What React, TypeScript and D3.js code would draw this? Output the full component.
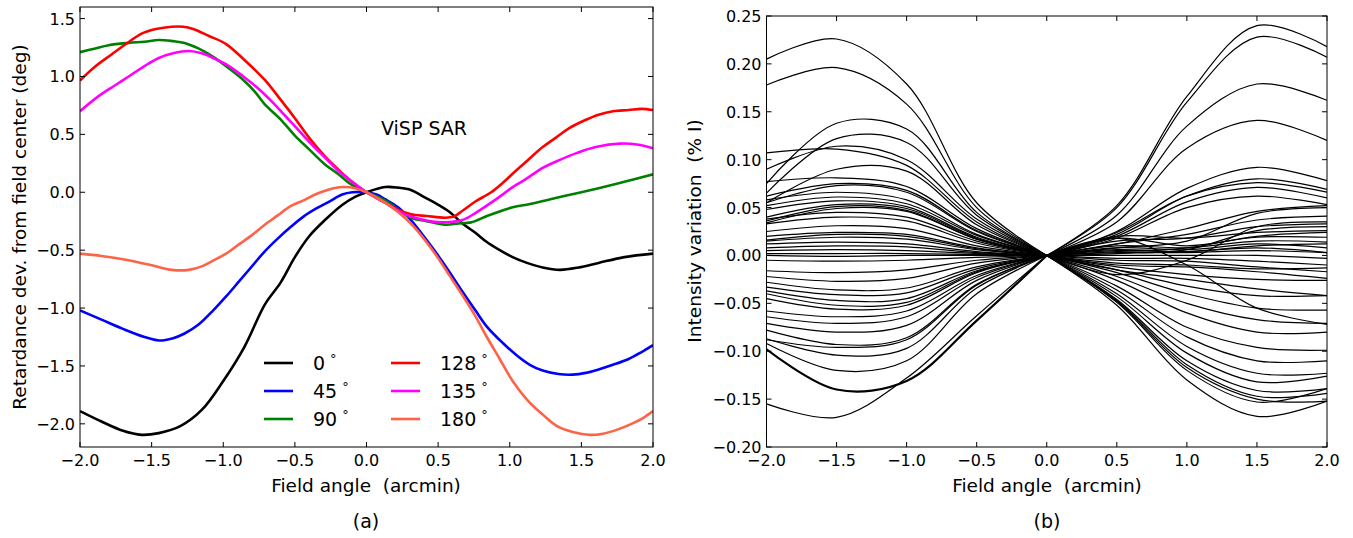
import React from 'react';
import * as d3 from 'd3';

// ---------- Panel (a): retardance deviation ----------
const legendLabels = ['0', '45', '90', '128', '135', '180'];
const seriesColors = ['#000000', '#0000ff', '#008000', '#ff0000', '#ff00ff', '#ff6347'];

const ret0: number[][] = [[-2,-1.89],[-1.85,-1.98],[-1.7,-2.06],[-1.57,-2.095],[-1.45,-2.08],[-1.3,-2.02],[-1.15,-1.88],[-1.0,-1.63],[-0.85,-1.33],[-0.71,-0.97],[-0.6,-0.78],[-0.5,-0.56],[-0.4,-0.38],[-0.29,-0.24],[-0.17,-0.11],[-0.08,-0.04],[0,0],[0.13,0.045],[0.22,0.04],[0.31,0.02],[0.4,-0.04],[0.49,-0.10],[0.58,-0.17],[0.67,-0.27],[0.76,-0.35],[0.84,-0.43],[0.93,-0.50],[1.02,-0.56],[1.12,-0.61],[1.23,-0.65],[1.35,-0.67],[1.48,-0.65],[1.62,-0.61],[1.8,-0.56],[2.0,-0.53]];
const ret45: number[][] = [[-2,-1.02],[-1.85,-1.10],[-1.7,-1.18],[-1.55,-1.25],[-1.45,-1.28],[-1.35,-1.26],[-1.27,-1.22],[-1.17,-1.14],[-1.07,-1.02],[-0.98,-0.90],[-0.89,-0.77],[-0.8,-0.64],[-0.71,-0.51],[-0.62,-0.40],[-0.53,-0.30],[-0.44,-0.21],[-0.35,-0.14],[-0.26,-0.08],[-0.17,-0.02],[-0.1,0.0],[0,0],[0.07,-0.02],[0.13,-0.06],[0.22,-0.13],[0.31,-0.24],[0.4,-0.38],[0.49,-0.53],[0.58,-0.69],[0.67,-0.86],[0.76,-1.02],[0.84,-1.16],[0.95,-1.30],[1.05,-1.41],[1.14,-1.49],[1.23,-1.54],[1.34,-1.57],[1.44,-1.575],[1.53,-1.56],[1.62,-1.53],[1.72,-1.49],[1.83,-1.44],[1.92,-1.38],[2.0,-1.32]];
const ret90: number[][] = [[-2,1.21],[-1.9,1.24],[-1.8,1.27],[-1.66,1.29],[-1.55,1.30],[-1.45,1.315],[-1.35,1.305],[-1.27,1.29],[-1.17,1.24],[-1.07,1.17],[-0.96,1.07],[-0.86,0.97],[-0.78,0.87],[-0.71,0.76],[-0.6,0.63],[-0.5,0.49],[-0.4,0.37],[-0.29,0.24],[-0.2,0.16],[-0.11,0.07],[0,0],[0.13,-0.07],[0.22,-0.15],[0.31,-0.22],[0.42,-0.25],[0.55,-0.28],[0.64,-0.27],[0.73,-0.26],[0.85,-0.20],[1.02,-0.13],[1.15,-0.10],[1.32,-0.05],[1.5,0.0],[1.62,0.035],[1.8,0.09],[2.0,0.155]];
const ret128: number[][] = [[-2,0.965],[-1.9,1.08],[-1.78,1.19],[-1.68,1.28],[-1.57,1.37],[-1.47,1.41],[-1.36,1.43],[-1.28,1.43],[-1.21,1.41],[-1.1,1.35],[-0.98,1.28],[-0.85,1.14],[-0.71,0.97],[-0.6,0.80],[-0.5,0.64],[-0.4,0.47],[-0.29,0.31],[-0.2,0.20],[-0.11,0.10],[0,0],[0.13,-0.09],[0.22,-0.15],[0.31,-0.19],[0.42,-0.205],[0.55,-0.22],[0.61,-0.21],[0.67,-0.16],[0.76,-0.08],[0.87,0.0],[0.95,0.08],[1.02,0.16],[1.12,0.27],[1.23,0.39],[1.32,0.47],[1.41,0.55],[1.52,0.62],[1.62,0.67],[1.72,0.70],[1.83,0.71],[1.92,0.72],[2.0,0.71]];
const ret135: number[][] = [[-2,0.70],[-1.87,0.83],[-1.76,0.92],[-1.66,1.0],[-1.55,1.09],[-1.45,1.16],[-1.35,1.20],[-1.24,1.22],[-1.15,1.20],[-1.07,1.16],[-0.96,1.09],[-0.86,1.0],[-0.75,0.89],[-0.65,0.77],[-0.56,0.65],[-0.47,0.53],[-0.38,0.41],[-0.29,0.30],[-0.2,0.19],[-0.11,0.10],[0,0],[0.13,-0.09],[0.22,-0.16],[0.31,-0.21],[0.42,-0.245],[0.52,-0.26],[0.6,-0.255],[0.67,-0.24],[0.76,-0.18],[0.87,-0.09],[0.95,-0.02],[1.02,0.045],[1.12,0.12],[1.23,0.21],[1.35,0.28],[1.47,0.34],[1.6,0.39],[1.77,0.42],[1.9,0.41],[2.0,0.38]];
const ret180: number[][] = [[-2,-0.53],[-1.85,-0.55],[-1.69,-0.58],[-1.5,-0.63],[-1.36,-0.67],[-1.24,-0.67],[-1.15,-0.64],[-1.07,-0.59],[-0.98,-0.53],[-0.89,-0.45],[-0.8,-0.37],[-0.71,-0.28],[-0.62,-0.20],[-0.53,-0.12],[-0.44,-0.07],[-0.35,-0.015],[-0.23,0.035],[-0.15,0.045],[-0.08,0.035],[0,0],[0.13,-0.09],[0.22,-0.17],[0.31,-0.27],[0.4,-0.40],[0.49,-0.55],[0.58,-0.72],[0.67,-0.89],[0.76,-1.07],[0.84,-1.25],[0.93,-1.44],[1.02,-1.63],[1.12,-1.79],[1.23,-1.92],[1.33,-2.02],[1.44,-2.07],[1.56,-2.095],[1.65,-2.085],[1.75,-2.05],[1.85,-2.0],[1.93,-1.95],[2.0,-1.89]];
const retSeries = [ret0, ret45, ret90, ret128, ret135, ret180];

const xTicksA = [-2.0, -1.5, -1.0, -0.5, 0.0, 0.5, 1.0, 1.5, 2.0];
const yTicksA = [-2.0, -1.5, -1.0, -0.5, 0.0, 0.5, 1.0, 1.5];

// ---------- Panel (b): intensity variation ----------
const leftAngles = [-2, -1.5, -1, -0.5, 0];
const rightAngles = [0, 0.5, 1, 1.5, 2];
// left halves: values at -2, -1.5, -1, -0.5 (0 at centre)
const leftHalves: number[][] = [
  [0.205, 0.226, 0.179, 0.055], [0.178, 0.196, 0.158, 0.05], [0.075, 0.138, 0.132, 0.045], [0.065, 0.122, 0.118, 0.042],
  [0.09, 0.114, 0.100, 0.038], [0.107, 0.111, 0.094, 0.035], [0.055, 0.09, 0.088, 0.032], [0.077, 0.081, 0.072, 0.028],
  [0.062, 0.075, 0.068, 0.026], [0.055, 0.073, 0.066, 0.025], [0.058, 0.066, 0.058, 0.022], [0.052, 0.061, 0.054, 0.021],
  [0.048, 0.057, 0.051, 0.019], [0.040, 0.053, 0.049, 0.018], [0.036, 0.051, 0.047, 0.017], [0.034, 0.049, 0.046, 0.017],
  [0.038, 0.045, 0.040, 0.015], [0.033, 0.040, 0.036, 0.013], [0.025, 0.031, 0.028, 0.010], [0.020, 0.024, 0.022, 0.008],
  [0.016, 0.022, 0.020, 0.007], [0.015, 0.019, 0.017, 0.006], [0.012, 0.014, 0.012, 0.004], [0.008, 0.010, 0.009, 0.003],
  [0.005, 0.006, 0.005, 0.002], [0.002, 0.002, 0.002, 0.001], [0, -0.001, 0, 0], [-0.005, -0.006, -0.005, -0.002],
  [-0.016, -0.018, -0.015, -0.005], [-0.022, -0.027, -0.024, -0.008], [-0.028, -0.036, -0.034, -0.012], [-0.033, -0.041, -0.039, -0.014],
  [-0.037, -0.047, -0.045, -0.016], [-0.040, -0.052, -0.049, -0.017], [-0.045, -0.056, -0.052, -0.018], [-0.058, -0.064, -0.058, -0.021],
  [-0.064, -0.071, -0.064, -0.023], [-0.071, -0.080, -0.073, -0.026], [-0.078, -0.093, -0.086, -0.030], [-0.088, -0.096, -0.088, -0.031],
  [-0.087, -0.104, -0.097, -0.034], [-0.092, -0.120, -0.110, -0.040], [-0.098, -0.140, -0.131, -0.068], [-0.155, -0.169, -0.128, -0.063],
];
// right halves: values at 0.5, 1, 1.5, 2 (0 at centre)
const rightHalves: number[][] = [
  [0.052, 0.166, 0.240, 0.218], [0.050, 0.160, 0.228, 0.207], [0.042, 0.135, 0.179, 0.162], [0.035, 0.112, 0.141, 0.120],
  [0.025, 0.070, 0.092, 0.078], [0.022, 0.062, 0.080, 0.069], [0.024, 0.062, 0.076, 0.066], [0.020, 0.056, 0.071, 0.060],
  [0.018, 0.050, 0.062, 0.053], [0.008, 0.015, 0.044, 0.050], [0.012, 0.022, 0.037, 0.041], [0.015, 0.018, 0.030, 0.033],
  [0.020, 0.018, 0.024, 0.026], [0.018, 0.010, 0.019, 0.019], [0.010, 0.008, 0.015, 0.014], [0.008, 0.006, 0.012, 0.008],
  [0.005, 0.004, 0.008, 0.003], [0.003, 0.003, 0.005, 0.003], [0.000, 0.000, 0.000, -0.003], [-0.003, -0.003, -0.006, -0.010],
  [-0.005, -0.006, -0.012, -0.017], [-0.010, -0.012, -0.017, -0.024], [0.018, -0.010, -0.055, -0.072], [-0.015, -0.025, -0.035, -0.042],
  [-0.020, -0.005, 0.030, 0.035], [0.006, 0.004, 0.010, 0.012], [-0.008, -0.010, -0.014, -0.013], [0.004, 0.008, 0.020, 0.024],
  [-0.012, -0.020, -0.025, -0.026], [0.002, 0.006, 0.026, 0.030], [0.012, 0.028, 0.046, 0.052], [-0.015, -0.032, -0.042, -0.042],
  [-0.018, -0.040, -0.055, -0.057], [-0.022, -0.050, -0.067, -0.071], [-0.026, -0.060, -0.080, -0.080], [-0.032, -0.075, -0.096, -0.099],
  [-0.036, -0.085, -0.110, -0.110], [-0.040, -0.095, -0.123, -0.123], [-0.043, -0.102, -0.132, -0.126], [-0.046, -0.110, -0.141, -0.139],
  [-0.047, -0.114, -0.147, -0.144], [-0.048, -0.117, -0.150, -0.152], [-0.049, -0.120, -0.153, -0.139], [-0.052, -0.130, -0.168, -0.152],
];
const xTicksB = [-2.0, -1.5, -1.0, -0.5, 0.0, 0.5, 1.0, 1.5, 2.0];
const yTicksB = [-0.2, -0.15, -0.1, -0.05, 0.0, 0.05, 0.1, 0.15, 0.2, 0.25];

const FONT = 'DejaVu Sans, sans-serif';
const fmt = (v: number, d: number) => (v < 0 ? '\u2212' : '') + Math.abs(v).toFixed(d);

function Axes({ x, y, xTicks, yTicks, dec }: any) {
  const [x0, x1] = x.range();
  const [y0, y1] = y.range(); // y0 bottom, y1 top
  const T = 5;
  return (
    <g fontFamily={FONT} fontSize={16} fill="#000">
      {xTicks.map((t: number) => (
        <g key={'x' + t}>
          <line x1={x(t)} x2={x(t)} y1={y0} y2={y0 - T} stroke="#000" />
          <line x1={x(t)} x2={x(t)} y1={y1} y2={y1 + T} stroke="#000" />
          <text x={x(t)} y={y0 + 18.5} textAnchor="middle">{fmt(t, 1)}</text>
        </g>
      ))}
      {yTicks.map((t: number) => (
        <g key={'y' + t}>
          <line x1={x0} x2={x0 + T} y1={y(t)} y2={y(t)} stroke="#000" />
          <line x1={x1} x2={x1 - T} y1={y(t)} y2={y(t)} stroke="#000" />
          <text x={x0 - 5} y={y(t) + 6} textAnchor="end">{fmt(t, dec)}</text>
        </g>
      ))}
      <rect x={x0} y={y1} width={x1 - x0} height={y0 - y1} fill="none" stroke="#000" strokeWidth={1} />
    </g>
  );
}

export default function App() {
  // Panel a scales
  const xa = d3.scaleLinear().domain([-2, 2]).range([80, 653]);
  const ya = d3.scaleLinear().domain([-2.2, 1.6]).range([447, 7]);
  const lineA = d3.line<number[]>().x(d => xa(d[0])).y(d => ya(d[1])).curve(d3.curveCatmullRom.alpha(0.5));

  // Panel b scales
  const xb = d3.scaleLinear().domain([-2, 2]).range([766.5, 1327]);
  const yb = d3.scaleLinear().domain([-0.2, 0.25]).range([447, 16]);
  const lineLeft = d3.line<number>().x((_, i) => xb(leftAngles[i])).y(d => yb(d)).curve(d3.curveCatmullRom.alpha(0.5));
  const lineRight = d3.line<number>().x((_, i) => xb(rightAngles[i])).y(d => yb(d)).curve(d3.curveCatmullRom.alpha(0.5));

  const legendCols = [
    { lx: 264, tx: 313 },
    { lx: 391, tx: 440 },
  ];
  const legendRows = [363, 391, 419];
  const ws = { whiteSpace: 'pre' as const };

  return (
    <svg width={1353} height={538} style={{ position: 'absolute', left: 0, top: 0, background: '#fff' }}>
      <defs>
        <clipPath id="clipA"><rect x={80} y={7} width={573} height={440} /></clipPath>
        <clipPath id="clipB"><rect x={766.5} y={16} width={560.5} height={431} /></clipPath>
      </defs>
      <rect width={1353} height={538} fill="#fff" />

      {/* Panel a */}
      <g clipPath="url(#clipA)">
        {retSeries.map((s, i) => (
          <path key={i} d={lineA(s) || ''} fill="none" stroke={seriesColors[i]} strokeWidth={2.6} strokeLinejoin="round" />
        ))}
      </g>
      <Axes x={xa} y={ya} xTicks={xTicksA} yTicks={yTicksA} dec={1} />
      <text x={424} y={135} fontFamily={FONT} fontSize={19} textAnchor="middle">ViSP SAR</text>
      {legendLabels.map((lab, i) => {
        const c = legendCols[Math.floor(i / 3)];
        const ry = legendRows[i % 3];
        return (
          <g key={lab}>
            <line x1={c.lx} x2={c.lx + 29} y1={ry} y2={ry} stroke={seriesColors[i]} strokeWidth={2.6} />
            <text x={c.tx} y={ry + 7} fontFamily={FONT} fontSize={19}>
              {lab}
              <tspan dx={5} dy={-7} fontSize={13}>{'\u00b0'}</tspan>
            </text>
          </g>
        );
      })}
      <text x={366} y={492} fontFamily={FONT} fontSize={18.5} textAnchor="middle" style={ws}>{'Field angle  (arcmin)'}</text>
      <text transform="translate(26,227) rotate(-90)" fontFamily={FONT} fontSize={18.5} textAnchor="middle">Retardance dev. from field center (deg)</text>
      <text x={366} y={528} fontFamily={FONT} fontSize={19} textAnchor="middle">(a)</text>

      {/* Panel b */}
      <g clipPath="url(#clipB)">
        {leftHalves.map((l, i) => {
          const w = i === 42 ? 2.2 : 1.2;
          return (
            <g key={i}>
              <path d={lineLeft([...l, 0]) || ''} fill="none" stroke="#000" strokeWidth={w} strokeLinejoin="round" />
              <path d={lineRight([0, ...rightHalves[i]]) || ''} fill="none" stroke="#000" strokeWidth={1.2} strokeLinejoin="round" />
            </g>
          );
        })}
      </g>
      <Axes x={xb} y={yb} xTicks={xTicksB} yTicks={yTicksB} dec={2} />
      <text x={1047} y={492} fontFamily={FONT} fontSize={18.5} textAnchor="middle" style={ws}>{'Field angle  (arcmin)'}</text>
      <text transform="translate(701,231) rotate(-90)" fontFamily={FONT} fontSize={18.5} textAnchor="middle" style={ws}>{'Intensity variation  (% I)'}</text>
      <text x={1047} y={528} fontFamily={FONT} fontSize={19} textAnchor="middle">(b)</text>
    </svg>
  );
}
